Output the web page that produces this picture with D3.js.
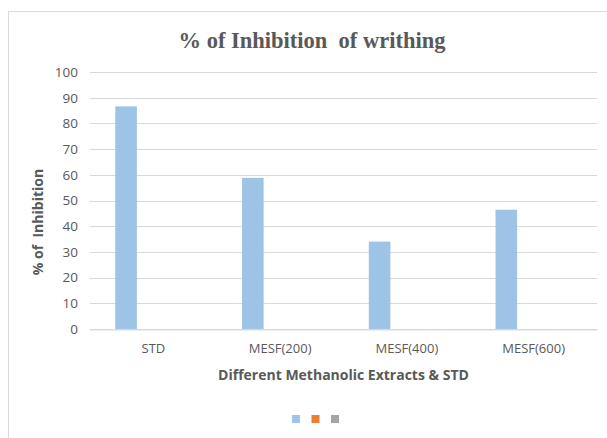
<!DOCTYPE html>
<html>
<head>
<meta charset="utf-8">
<script src="https://cdn.jsdelivr.net/npm/d3@7"></script>
<style>
  html, body { margin: 0; padding: 0; background: #fff; }
  svg { display: block; }
</style>
</head>
<body>
<svg id="chart" width="607" height="438"></svg>
<script>
const categories = ["STD", "MESF(200)", "MESF(400)", "MESF(600)"];
const seriesNames = ["S1", "S2", "S3"];
const series1 = [86.6, 58.8, 34.0, 46.4];
const series2 = [0, 0, 0, 0];
const series3 = [0, 0, 0, 0];
const seriesColors = ["#9dc3e6", "#ed7d31", "#a5a5a5"];
const yTicks = [0, 10, 20, 30, 40, 50, 60, 70, 80, 90, 100];
const titleText = "% of Inhibition  of writhing";
const xTitle = "Different Methanolic Extracts & STD";
const yTitle = "% of  Inhibition";

const seriesValues = [series1, series2, series3];
const svg = d3.select("#chart");

// chart frame
svg.append("rect")
  .attr("x", 8.5).attr("y", 11.5)
  .attr("width", 620).attr("height", 440)
  .attr("fill", "#fff").attr("stroke", "#d9d9d9").attr("stroke-width", 1);

const plot = { left: 90, right: 597, top: 72, bottom: 329 };

const x0 = d3.scaleBand().domain(categories).range([plot.left, plot.right]).padding(0);
const x1 = d3.scaleBand().domain(seriesNames).range([0, x0.bandwidth()])
  .paddingInner(0).paddingOuter(1.434).align(0.408);
const y = d3.scaleLinear().domain([0, 100]).range([plot.bottom, plot.top]);

// gridlines
svg.append("g").selectAll("line").data(yTicks).join("line")
  .attr("x1", plot.left).attr("x2", plot.right)
  .attr("y1", d => Math.round(y(d)) + 0.5).attr("y2", d => Math.round(y(d)) + 0.5)
  .attr("stroke", "#d9d9d9").attr("stroke-width", 1.2);

// y axis labels
const yAxis = d3.axisLeft(y).tickValues(yTicks).tickSize(0).tickPadding(12);
const gy = svg.append("g").attr("transform", `translate(${plot.left},0)`).call(yAxis);
gy.select(".domain").remove();
gy.selectAll("text")
  .attr("font-family", "'Open Sans', 'Liberation Sans', sans-serif")
  .attr("font-size", 13.5).attr("fill", "#595959");

// bars
const groups = svg.append("g").selectAll("g").data(categories).join("g")
  .attr("transform", d => `translate(${x0(d)},0)`);
groups.selectAll("rect")
  .data((c, i) => seriesNames.map((s, j) => ({ s, j, v: seriesValues[j][i] })))
  .join("rect")
  .attr("x", d => x1(d.s))
  .attr("width", x1.bandwidth())
  .attr("y", d => y(d.v))
  .attr("height", d => y(0) - y(d.v))
  .attr("fill", d => seriesColors[d.j]);

// x axis
const xAxis = d3.axisBottom(x0).tickSize(0).tickPadding(14);
const gx = svg.append("g").attr("transform", `translate(0,${plot.bottom + 0.5})`).call(xAxis);
gx.select(".domain").attr("stroke", "#d9d9d9").attr("stroke-width", 1.2);
gx.selectAll("text")
  .attr("font-family", "'Open Sans', 'Liberation Sans', sans-serif")
  .attr("font-size", 13).attr("fill", "#595959");

// title
svg.append("text")
  .attr("x", 312).attr("y", 48)
  .attr("text-anchor", "middle")
  .attr("font-family", "'Liberation Serif', 'Times New Roman', serif")
  .attr("font-weight", "bold").attr("font-size", 22.5).attr("fill", "#595959")
  .style("white-space", "pre")
  .text(titleText);

// x title
svg.append("text")
  .attr("x", (plot.left + plot.right) / 2).attr("y", 380)
  .attr("text-anchor", "middle")
  .attr("font-family", "'Open Sans', 'Liberation Sans', sans-serif")
  .attr("font-weight", "bold").attr("font-size", 14).attr("fill", "#595959")
  .text(xTitle);

// y title
svg.append("text")
  .attr("transform", "translate(43,222) rotate(-90)")
  .attr("text-anchor", "middle")
  .attr("font-family", "'Open Sans', 'Liberation Sans', sans-serif")
  .attr("font-weight", "bold").attr("font-size", 14).attr("fill", "#595959")
  .style("white-space", "pre")
  .text(yTitle);

// legend
const legend = svg.append("g").attr("transform", "translate(292,415)");
legend.selectAll("rect").data(seriesNames).join("rect")
  .attr("x", (d, i) => i * 19.5)
  .attr("y", 0).attr("width", 8).attr("height", 8)
  .attr("fill", (d, i) => seriesColors[i]);
</script>
</body>
</html>
